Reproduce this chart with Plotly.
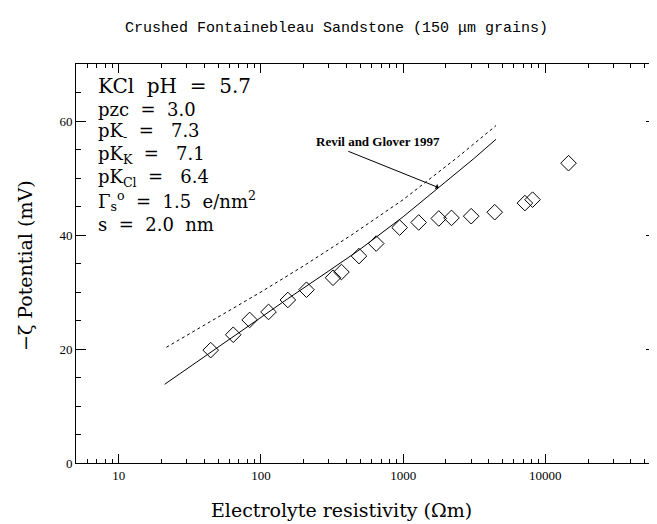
import numpy as np
import plotly.graph_objects as go

# ---- data ----
meas_res = [44.3, 63.8, 83.2, 113, 154.5, 209, 321, 368, 489, 646, 944, 1285,
            1780, 2187, 3008, 4405, 7180, 8130, 14550]
meas_zeta = [19.8, 22.5, 25.1, 26.5, 28.6, 30.4, 32.5, 33.5, 36.3, 38.5, 41.3, 42.2,
             42.9, 43.0, 43.3, 44.0, 45.6, 46.2, 52.6]

model_res = [21, 44, 100, 154, 300, 480, 1000, 1780, 3140, 4500]
model_zeta = [13.8, 19.4, 25.6, 28.8, 33.7, 37.2, 43.2, 48.3, 53.4, 56.8]

rg_res = [21.6, 50, 100, 200, 433, 1000, 2460, 4500]
rg_zeta = [20.3, 25.6, 30.0, 34.6, 40.0, 46.2, 53.8, 59.2]

xtick_vals = [10, 100, 1000, 10000]
xminor_vals = [m * d for d in [1, 10, 100, 1000, 10000] for m in range(2, 10)]
ytick_vals = [0, 20, 40, 60]

params = [
    ("KCl  pH  =  5.7", 20),
    ("pzc  =  3.0", 18),
    ("pK<sub>-</sub>  =   7.3", 18),
    ("pK<sub>K</sub>  =   7.1", 18),
    ("pK<sub>Cl</sub>  =   6.4", 18),
    ("Γ<sub>s</sub><sup>o</sup>  =  1.5  e/nm<sup>2</sup>", 18),
    ("s  =  2.0  nm", 18),
]

W, H = 657, 524
L, R, T, B = 68, 648, 56, 455

def px(p):
    return (p - L) / (R - L)

def py(p):
    return (B - p) / (B - T)

fig = go.Figure()
fig.add_trace(go.Scatter(x=rg_res, y=rg_zeta, mode="lines",
                         line=dict(color="black", width=1, dash="dot"),
                         showlegend=False))
fig.add_trace(go.Scatter(x=model_res, y=model_zeta, mode="lines",
                         line=dict(color="black", width=1),
                         showlegend=False))
fig.add_trace(go.Scatter(x=meas_res, y=meas_zeta, mode="markers",
                         marker=dict(symbol="diamond-open", size=12,
                                     color="black", line=dict(width=1)),
                         showlegend=False))

serif = "Liberation Serif"
ann = []
line_y = [78, 101, 124, 147, 170, 193, 216]
for (txt, sz), yy in zip(params, line_y):
    ann.append(dict(text=txt, xref="paper", yref="paper", x=px(88), y=py(yy),
                    xanchor="left", yanchor="middle", showarrow=False,
                    font=dict(family="DejaVu Serif", size=sz, color="black")))

ann.append(dict(text="<b>Revil and Glover 1997</b>", xref="paper", yref="paper",
                x=px(306), y=py(133), xanchor="left", yanchor="middle",
                showarrow=False, font=dict(family=serif, size=13, color="black")))
ann.append(dict(text="", x=np.log10(model_res[7]), y=model_zeta[7],
                xref="x", yref="y", showarrow=True, ax=-92, ay=-37,
                arrowhead=1, arrowsize=1, arrowwidth=1, arrowcolor="black"))

ann.append(dict(text="Crushed Fontainebleau Sandstone (150 μm grains)",
                xref="paper", yref="paper", x=px(328), y=py(20),
                xanchor="center", yanchor="middle", showarrow=False,
                font=dict(family="Liberation Mono", size=15, color="black")))
ann.append(dict(text="Electrolyte resistivity (Ωm)",
                xref="paper", yref="paper", x=px(333), y=py(502),
                xanchor="center", yanchor="middle", showarrow=False,
                font=dict(family="DejaVu Serif", size=19, color="black")))
ann.append(dict(text="−ζ Potential (mV)", textangle=-90,
                xref="paper", yref="paper", x=px(17), y=py(258),
                xanchor="center", yanchor="middle", showarrow=False,
                font=dict(family="DejaVu Serif", size=19, color="black")))

fig.update_layout(
    width=W, height=H,
    margin=dict(l=L, r=W - R, t=T, b=H - B),
    paper_bgcolor="white", plot_bgcolor="white",
    annotations=ann,
    xaxis=dict(type="log", range=[np.log10(5), np.log10(60000)],
               tickvals=xtick_vals, ticktext=[str(v) for v in xtick_vals],
               ticks="inside", ticklen=9, tickwidth=1, tickcolor="black",
               minor=dict(tickvals=xminor_vals, ticks="inside", ticklen=4,
                          tickcolor="black", showgrid=False),
               showline=True, linecolor="black", linewidth=1, mirror="allticks",
               showgrid=False, zeroline=False,
               tickfont=dict(family=serif, size=13, color="black")),
    yaxis=dict(range=[0, 70], tickvals=ytick_vals,
               ticks="inside", ticklen=10, tickwidth=1, tickcolor="black",
               minor=dict(ticks="inside", ticklen=5, dtick=5, tickcolor="black", showgrid=False),
               showline=True, linecolor="black", linewidth=1, mirror="allticks",
               showgrid=False, zeroline=False,
               tickfont=dict(family=serif, size=13, color="black")),
)

fig.write_html("out.html")
